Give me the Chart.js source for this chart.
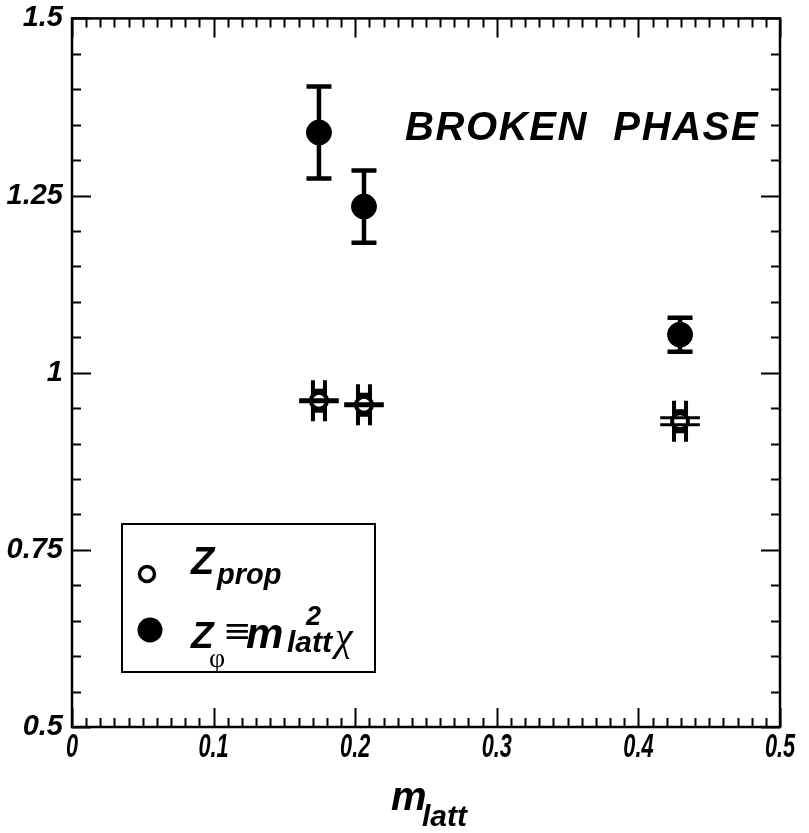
<!DOCTYPE html>
<html><head><meta charset="utf-8">
<script src="https://cdn.jsdelivr.net/npm/chart.js@4.4.1/dist/chart.umd.min.js"></script>
<style>html,body{margin:0;padding:0;background:#fff}#wrap{width:809px;height:833px}</style>
</head><body><div id="wrap"><canvas id="c" width="809" height="833"></canvas></div>
<script>
// ---- data ----
const mLatt = [0.1744, 0.2062, 0.4294];
const zPhi = [1.339, 1.2345, 1.0537];
const zPhiErr = [0.065, 0.051, 0.024];
const zProp = [0.9605, 0.9548, 0.9315];
const zPropErrY = [0.029, 0.029, 0.029];
const zPropErrX = [0.014, 0.014, 0.014];
const xTickValues = [0, 0.1, 0.2, 0.3, 0.4, 0.5];
const xTickLabels = ['0', '0.1', '0.2', '0.3', '0.4', '0.5'];
const yTickValues = [0.5, 0.75, 1, 1.25, 1.5];
const yTickLabels = ['0.5', '0.75', '1', '1.25', '1.5'];
const xMinorStep = 0.01;
const yMinorStep = 0.05;
// style only
const hBarDouble = [false, false, true];

const FONT = "'Liberation Sans', Arial, Helvetica, sans-serif";
const SERIF = "'Liberation Serif', 'DejaVu Serif', serif";

function txt(ctx, s, x, y, size, style, align, fam, spacing) {
  ctx.font = (style || 'italic bold') + ' ' + size + 'px ' + (fam || FONT);
  ctx.textAlign = align || 'left';
  ctx.textBaseline = 'alphabetic';
  ctx.fillStyle = '#000';
  ctx.letterSpacing = (spacing || 0) + 'px';
  ctx.fillText(s, x, y);
  ctx.letterSpacing = '0px';
}

// condense x tick labels horizontally (they are narrow in the original)
const condenseX = {
  id: 'condenseX',
  beforeDraw(chart) {
    const s = chart.scales.x;
    if (s._condensed) return;
    s._condensed = true;
    const orig = s.drawLabels;
    s.drawLabels = function (ca) {
      const ctx = this.ctx;
      const f = ctx.fillText;
      ctx.fillText = function (t, x, y) {
        this.save();
        this.translate(x, y);
        this.scale(0.64, 1);
        f.call(this, t, 0, 0);
        this.restore();
      };
      try { orig.call(this, ca); } finally { ctx.fillText = f; }
    };
  }
};

const errorBars = {
  id: 'errorBars',
  beforeDatasetsDraw(chart) {
    const {ctx, scales: {x, y}} = chart;
    ctx.save();
    ctx.strokeStyle = '#000';
    ctx.lineCap = 'butt';
    for (let i = 0; i < mLatt.length; i++) {
      const px = x.getPixelForValue(mLatt[i]);
      const y1 = y.getPixelForValue(zPhi[i] + zPhiErr[i]);
      const y2 = y.getPixelForValue(zPhi[i] - zPhiErr[i]);
      ctx.lineWidth = 4.5;
      ctx.beginPath();
      ctx.moveTo(px, y1); ctx.lineTo(px, y2);
      ctx.moveTo(px - 12.5, y1); ctx.lineTo(px + 12.5, y1);
      ctx.moveTo(px - 12.5, y2); ctx.lineTo(px + 12.5, y2);
      ctx.stroke();
    }
    for (let i = 0; i < mLatt.length; i++) {
      const px = x.getPixelForValue(mLatt[i]);
      const py = y.getPixelForValue(zProp[i]);
      [1, -1].forEach(sg => {
        const yEnd = y.getPixelForValue(zProp[i] + sg * zPropErrY[i]);
        const yMid = y.getPixelForValue(zProp[i] + sg * zPropErrY[i] * 0.5);
        ctx.lineWidth = 4;
        ctx.beginPath();
        ctx.moveTo(px - 6, yEnd); ctx.lineTo(px - 6, py);
        ctx.moveTo(px + 6, yEnd); ctx.lineTo(px + 6, py);
        ctx.stroke();
        ctx.lineWidth = 3.5;
        ctx.beginPath();
        ctx.moveTo(px - 8, yMid); ctx.lineTo(px + 8, yMid);
        ctx.stroke();
      });
    }
    ctx.restore();
  },
  afterDatasetsDraw(chart) {
    const {ctx, scales: {x, y}} = chart;
    ctx.save();
    ctx.strokeStyle = '#000';
    for (let i = 0; i < mLatt.length; i++) {
      const x1 = x.getPixelForValue(mLatt[i] - zPropErrX[i]);
      const x2 = x.getPixelForValue(mLatt[i] + zPropErrX[i]);
      const py = y.getPixelForValue(zProp[i]);
      ctx.beginPath();
      if (hBarDouble[i]) {
        ctx.lineWidth = 3;
        ctx.moveTo(x1, py - 3.5); ctx.lineTo(x2, py - 3.5);
        ctx.moveTo(x1, py + 3.5); ctx.lineTo(x2, py + 3.5);
      } else {
        ctx.lineWidth = 5;
        ctx.moveTo(x1, py); ctx.lineTo(x2, py);
      }
      ctx.stroke();
    }
    ctx.restore();
  }
};

const frameAndText = {
  id: 'frameAndText',
  afterDraw(chart) {
    const {ctx, chartArea: a, scales: {x, y}} = chart;
    ctx.save();
    ctx.strokeStyle = '#000';
    ctx.lineWidth = 2;
    ctx.beginPath();
    const nx = Math.round((x.max - x.min) / xMinorStep);
    for (let k = 0; k <= nx; k++) {
      const v = x.min + k * xMinorStep;
      const L = (k % 10 === 0) ? 19 : 9;
      const px = Math.round(x.getPixelForValue(v)) + 0.5;
      ctx.moveTo(px, a.bottom); ctx.lineTo(px, a.bottom - L);
      ctx.moveTo(px, a.top); ctx.lineTo(px, a.top + L);
    }
    const ny = Math.round((y.max - y.min) / yMinorStep);
    for (let k = 0; k <= ny; k++) {
      const v = y.min + k * yMinorStep;
      const L = (k % 5 === 0) ? 19 : 9;
      const py = Math.round(y.getPixelForValue(v)) + 0.5;
      ctx.moveTo(a.left, py); ctx.lineTo(a.left + L, py);
      ctx.moveTo(a.right, py); ctx.lineTo(a.right - L, py);
    }
    ctx.stroke();
    ctx.lineWidth = 2.5;
    ctx.strokeRect(a.left, a.top, a.right - a.left, a.bottom - a.top);

    // annotation
    txt(ctx, 'BROKEN  PHASE', 405, 140, 40, 'italic bold', 'left', FONT, 1.6);

    // axis title
    txt(ctx, 'm', 391, 810, 40);
    txt(ctx, 'latt', 422, 826, 30);

    // legend
    ctx.fillStyle = '#fff';
    ctx.fillRect(122, 524, 253, 148);
    ctx.lineWidth = 2;
    ctx.strokeRect(122, 524, 253, 148);
    ctx.beginPath();
    ctx.arc(147, 574, 7.5, 0, Math.PI * 2);
    ctx.fillStyle = '#fff'; ctx.fill();
    ctx.lineWidth = 3.5; ctx.stroke();
    ctx.beginPath();
    ctx.arc(150, 630, 12.5, 0, Math.PI * 2);
    ctx.fillStyle = '#000'; ctx.fill();

    txt(ctx, 'Z', 191, 574, 38);
    txt(ctx, 'prop', 217, 584, 29);
    txt(ctx, 'Z', 191, 648, 37);
    txt(ctx, 'φ', 209, 667, 28, 'normal', 'left', SERIF);
    txt(ctx, '≡', 223, 642, 34, 'normal', 'left', "'DejaVu Sans', sans-serif");
    txt(ctx, 'm', 246, 648, 42);
    txt(ctx, '2', 306, 625, 27);
    txt(ctx, 'latt', 287, 652, 30);
    txt(ctx, 'χ', 335, 650, 40, 'italic', 'left', SERIF);
    ctx.restore();
  }
};

new Chart(document.getElementById('c'), {
  type: 'scatter',
  data: {
    datasets: [
      {
        label: 'Z_prop',
        data: mLatt.map((v, i) => ({x: v, y: zProp[i]})),
        pointStyle: 'circle',
        pointRadius: 8,
        pointHoverRadius: 8,
        borderWidth: 4,
        borderColor: '#000',
        backgroundColor: '#fff'
      },
      {
        label: 'Z_phi',
        data: mLatt.map((v, i) => ({x: v, y: zPhi[i]})),
        pointStyle: 'circle',
        pointRadius: 12.5,
        pointHoverRadius: 12.5,
        borderWidth: 1,
        borderColor: '#000',
        backgroundColor: '#000'
      }
    ]
  },
  options: {
    responsive: false,
    animation: false,
    devicePixelRatio: 1,
    layout: {padding: {top: 18, right: 29, left: 0, bottom: 0}},
    plugins: {legend: {display: false}, tooltip: {enabled: false}},
    scales: {
      x: {
        type: 'linear', min: 0, max: 0.5,
        afterBuildTicks: s => { s.ticks = xTickValues.map(v => ({value: v})); },
        afterFit: s => { s.height = 106; },
        grid: {display: false, drawTicks: false},
        border: {display: false},
        ticks: {
          callback: (v, i) => xTickLabels[i],
          color: '#000', padding: 0, maxRotation: 0, autoSkip: false,
          font: {family: FONT, size: 34, style: 'italic', weight: 'bold'}
        }
      },
      y: {
        type: 'linear', min: 0.5, max: 1.5,
        afterBuildTicks: s => { s.ticks = yTickValues.map(v => ({value: v})); },
        afterFit: s => { s.width = 72; },
        grid: {display: false},
        border: {display: false},
        ticks: {
          callback: (v, i) => yTickLabels[i],
          color: '#000', padding: 1, autoSkip: false,
          font: {family: FONT, size: 29, style: 'italic', weight: 'bold'}
        }
      }
    }
  },
  plugins: [condenseX, errorBars, frameAndText]
});
</script>
</body></html>
